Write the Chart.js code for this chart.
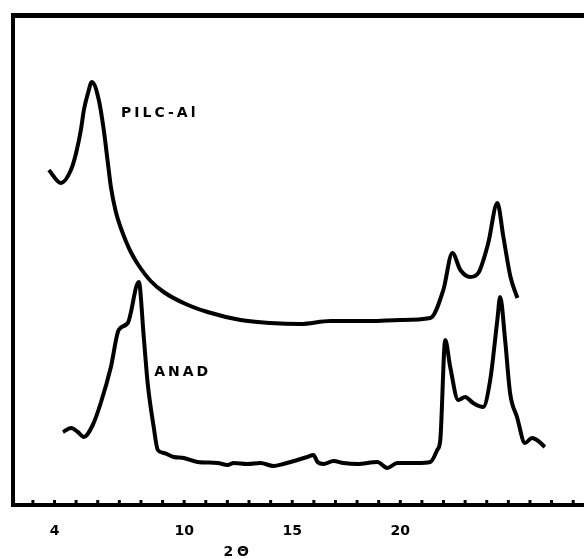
<!DOCTYPE html>
<html>
<head>
<meta charset="utf-8">
<script src="https://cdn.jsdelivr.net/npm/chart.js@4.4.1/dist/chart.umd.min.js"></script>
<style>
  body { margin: 0; background: #fff; }
  #wrap { width: 584px; height: 559px; }
</style>
</head>
<body>
<div id="wrap"><canvas id="xrd" width="584" height="559"></canvas></div>
<script>
// 2-theta (deg) and intensity (arb.)
const pilcTheta = [3.74, 4.30, 4.76, 5.00, 5.22, 5.36, 5.55, 5.73, 6.05, 6.28, 6.47, 6.61, 6.84, 7.07, 7.30, 7.53, 7.85, 8.45, 9.05, 10.07, 11.08, 12.61, 13.99, 15.38, 16.76, 18.61, 20.00, 21.39, 21.99, 22.41, 22.78, 23.24, 23.61, 24.07, 24.49, 24.77, 25.10, 25.42];
const pilcInt   = [335, 322, 335, 352, 375, 395, 412, 423, 405, 375, 342, 318, 293, 277, 264, 253, 241, 224, 213, 201, 193, 185, 182, 181, 184, 184, 185, 187, 215, 252, 235, 228, 232, 262, 302, 268, 228, 207];

const anadTheta = [4.39, 4.76, 5.08, 5.36, 5.77, 6.14, 6.61, 6.97, 7.39, 7.90, 8.13, 8.31, 8.59, 8.78, 9.06, 9.52, 9.98, 10.62, 11.55, 12.01, 12.29, 12.93, 13.53, 14.13, 14.59, 15.24, 15.70, 15.98, 16.17, 16.45, 16.91, 17.37, 18.01, 18.94, 19.40, 19.86, 20.78, 21.39, 21.71, 21.85, 22.08, 22.31, 22.68, 23.00, 23.37, 23.83, 24.16, 24.49, 24.62, 24.85, 25.08, 25.40, 25.77, 26.09, 26.32, 26.69];
const anadInt   = [73, 77, 73, 68, 80, 102, 138, 175, 182, 223, 168, 122, 78, 55, 52, 48, 47, 43, 42, 40, 42, 41, 42, 39, 41, 45, 48, 50, 43, 41, 44, 42, 41, 43, 37, 42, 42, 43, 55, 65, 165, 138, 105, 108, 102, 98, 125, 185, 208, 165, 112, 88, 62, 67, 65, 58];

const xTickLabels = [4, 10, 15, 20];
const minorTicks = [3, 4, 5, 6, 7, 8, 9, 10, 11, 12, 13, 14, 15, 16, 17, 18, 19, 20, 21, 22, 23, 24, 25, 26, 27, 28];

const curveNames = ['PILC-Al', 'ANAD'];
const nameTheta = [8.87, 9.93];
const nameInt = [392, 133];
const axisName = '2Θ';

const toPts = (xs, ys) => xs.map((x, i) => ({x: x, y: ys[i]}));

// tick bumps above the axis + curve names + axis name
const inkPlugin = {
  id: 'ink',
  afterDraw(chart) {
    const ctx = chart.ctx;
    const x = chart.scales.x, y = chart.scales.y;
    const base = chart.chartArea.bottom;
    ctx.save();
    ctx.strokeStyle = '#000';
    ctx.lineWidth = 3;
    minorTicks.forEach(v => {
      const px = x.getPixelForValue(v);
      ctx.beginPath();
      ctx.moveTo(px, base);
      ctx.lineTo(px, base - 5);
      ctx.stroke();
    });
    ctx.fillStyle = '#000';
    ctx.font = 'bold 14px "DejaVu Sans", sans-serif';
    ctx.textAlign = 'center';
    ctx.textBaseline = 'middle';
    ctx.letterSpacing = '3px';
    curveNames.forEach((n, i) => {
      ctx.fillText(n, x.getPixelForValue(nameTheta[i]), y.getPixelForValue(nameInt[i]));
    });
    ctx.letterSpacing = '4px';
    ctx.fillText(axisName, x.getPixelForValue(12.5), 552);
    ctx.restore();
  }
};

new Chart(document.getElementById('xrd'), {
  type: 'line',
  data: {
    datasets: [{
      label: 'PILC-Al',
      data: toPts(pilcTheta, pilcInt),
      borderColor: '#000',
      borderWidth: 4,
      pointRadius: 0,
      cubicInterpolationMode: 'monotone',
      fill: false
    }, {
      label: 'ANAD',
      data: toPts(anadTheta, anadInt),
      borderColor: '#000',
      borderWidth: 4,
      pointRadius: 0,
      cubicInterpolationMode: 'monotone',
      fill: false
    }]
  },
  options: {
    responsive: false,
    animation: false,
    layout: { padding: 0 },
    plugins: { legend: { display: false }, tooltip: { enabled: false } },
    scales: {
      x: {
        type: 'linear',
        position: 'bottom',
        min: 2.08,
        max: 28.5,
        afterBuildTicks: s => { s.ticks = xTickLabels.map(v => ({value: v})); },
        afterFit: s => { s.height = 54; },
        grid: { display: false },
        border: { display: true, color: '#000', width: 4 },
        ticks: { color: '#000', font: { family: 'DejaVu Sans', size: 14, weight: 'bold' }, padding: 10, maxRotation: 0 }
      },
      x2: {
        type: 'linear',
        position: 'top',
        min: 2.08,
        max: 28.5,
        afterFit: s => { s.height = 15; },
        grid: { display: false },
        border: { display: true, color: '#000', width: 5 },
        ticks: { display: false }
      },
      y: {
        min: 0,
        max: 490,
        afterFit: s => { s.width = 13; },
        grid: { display: false },
        border: { display: true, color: '#000', width: 4 },
        ticks: { display: false }
      }
    }
  },
  plugins: [inkPlugin]
});
</script>
</body>
</html>
